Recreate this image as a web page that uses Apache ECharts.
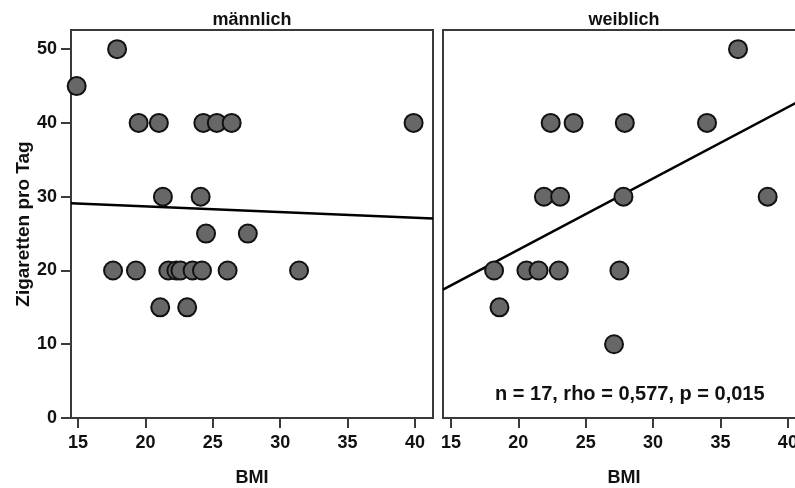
<!DOCTYPE html>
<html>
<head>
<meta charset="utf-8">
<script src="https://cdn.jsdelivr.net/npm/echarts@6/dist/echarts.min.js"></script>
<style>
  html, body { margin: 0; padding: 0; background: #fff; }
  #chart { width: 795px; height: 488px; }
</style>
</head>
<body>
<div id="chart"></div>
<script>
// werte
var panelTitles = ["männlich", "weiblich"];
var xTicks = [15, 20, 25, 30, 35, 40];
var yTicks = [0, 10, 20, 30, 40, 50];

var maleBmi = [14.9, 17.9, 19.5, 21.0, 24.3, 25.3, 26.4, 39.9, 21.3, 24.1, 24.5, 27.6, 17.6, 19.3, 21.7, 22.3, 22.6, 23.5, 24.2, 26.1, 31.4, 21.1, 23.1];
var maleCig = [45, 50, 40, 40, 40, 40, 40, 40, 30, 30, 25, 25, 20, 20, 20, 20, 20, 20, 20, 20, 20, 15, 15];

var femaleBmi = [36.3, 22.4, 24.1, 27.9, 34.0, 21.9, 23.1, 27.8, 38.5, 18.2, 20.6, 21.5, 23.0, 27.5, 18.6, 27.1];
var femaleCig = [50, 40, 40, 40, 40, 30, 30, 30, 30, 20, 20, 20, 20, 20, 15, 10];

// regressionsgeraden (endpunkte an den achsengrenzen)
var maleFit = [[14.48, 29.1], [41.34, 27.05]];
var femaleFit = [[14.41, 17.4], [41.27, 43.36]];

var statsText = "n = 17, rho = 0,577, p = 0,015";

var fontFam = "'Liberation Sans', Arial, sans-serif";
var frameColor = "#3a3a3a";

function pairs(xs, ys) {
    return xs.map(function (x, i) { return [x, ys[i]]; });
}

var dom = document.getElementById("chart");
var myChart = echarts.init(dom, null, { renderer: "canvas" });

function xAxisFor(idx, min, max) {
    return {
        type: "value",
        gridIndex: idx,
        min: min,
        max: max,
        name: "BMI",
        nameLocation: "middle",
        nameGap: 51,
        nameTextStyle: { fontFamily: fontFam, fontWeight: "bold", fontSize: 18, color: "#111" },
        axisLine: { show: true, onZero: false, lineStyle: { color: frameColor, width: 2 } },
        axisTick: { show: true, length: 10, customValues: xTicks, lineStyle: { color: frameColor, width: 2 } },
        axisLabel: { customValues: xTicks, margin: 16, fontFamily: fontFam, fontWeight: "bold", fontSize: 18, color: "#111" },
        splitLine: { show: false }
    };
}

var option = {
    backgroundColor: "#fff",
    animation: false,
    title: [
        { text: panelTitles[0], left: 252, top: 11, textAlign: "center", padding: 0,
          textStyle: { fontFamily: fontFam, fontWeight: "bold", fontSize: 18, color: "#111" } },
        { text: panelTitles[1], left: 624, top: 11, textAlign: "center", padding: 0,
          textStyle: { fontFamily: fontFam, fontWeight: "bold", fontSize: 18, color: "#111" } }
    ],
    grid: [
        { left: 71, top: 30, width: 362, height: 388, outerBoundsMode: "none", show: true,
          borderColor: frameColor, borderWidth: 2, backgroundColor: "#fff" },
        // rechtes panel ist im original am bildrand abgeschnitten
        { left: 443, top: 30, width: 362, height: 388, outerBoundsMode: "none", show: false }
    ],
    xAxis: [
        xAxisFor(0, 14.48, 41.34),
        xAxisFor(1, 14.41, 41.27),
        {
            type: "value", gridIndex: 1, position: "top", min: 14.41, max: 41.27,
            axisLine: { show: true, onZero: false, lineStyle: { color: frameColor, width: 2 } },
            axisTick: { show: false }, axisLabel: { show: false }, splitLine: { show: false }
        }
    ],
    yAxis: [
        {
            type: "value",
            gridIndex: 0,
            min: 0,
            max: 52.6,
            name: "Zigaretten pro Tag",
            nameLocation: "middle",
            nameGap: 37,
            nameTextStyle: { fontFamily: fontFam, fontWeight: "bold", fontSize: 19, color: "#111" },
            axisLine: { show: true, onZero: false, lineStyle: { color: frameColor, width: 2 } },
            axisTick: { show: true, length: 10, customValues: yTicks, lineStyle: { color: frameColor, width: 2 } },
            axisLabel: { customValues: yTicks, margin: 14, fontFamily: fontFam, fontWeight: "bold", fontSize: 18, color: "#111" },
            splitLine: { show: false }
        },
        {
            type: "value",
            gridIndex: 1,
            min: 0,
            max: 52.6,
            axisLine: { show: true, onZero: false, lineStyle: { color: frameColor, width: 2 } },
            axisTick: { show: false },
            axisLabel: { show: false },
            splitLine: { show: false }
        }
    ],
    graphic: [
        {
            type: "text",
            left: 495,
            top: 384,
            z: 100,
            style: { text: statsText, fontFamily: fontFam, fontWeight: "bold", fontSize: 20, fill: "#111" }
        }
    ],
    series: [
        {
            type: "line", xAxisIndex: 0, yAxisIndex: 0, data: maleFit,
            symbol: "none", lineStyle: { color: "#000", width: 2.5 }, z: 2
        },
        {
            type: "line", xAxisIndex: 1, yAxisIndex: 1, data: femaleFit,
            symbol: "none", lineStyle: { color: "#000", width: 2.5 }, z: 2
        },
        {
            type: "scatter", xAxisIndex: 0, yAxisIndex: 0, data: pairs(maleBmi, maleCig),
            symbolSize: 18, itemStyle: { color: "#676767", borderColor: "#111", borderWidth: 2, opacity: 1 }, z: 3
        },
        {
            type: "scatter", xAxisIndex: 1, yAxisIndex: 1, data: pairs(femaleBmi, femaleCig),
            symbolSize: 18, itemStyle: { color: "#676767", borderColor: "#111", borderWidth: 2, opacity: 1 }, z: 3
        }
    ]
};

option && "object" == typeof option && myChart.setOption(option, true);
</script>
</body>
</html>
